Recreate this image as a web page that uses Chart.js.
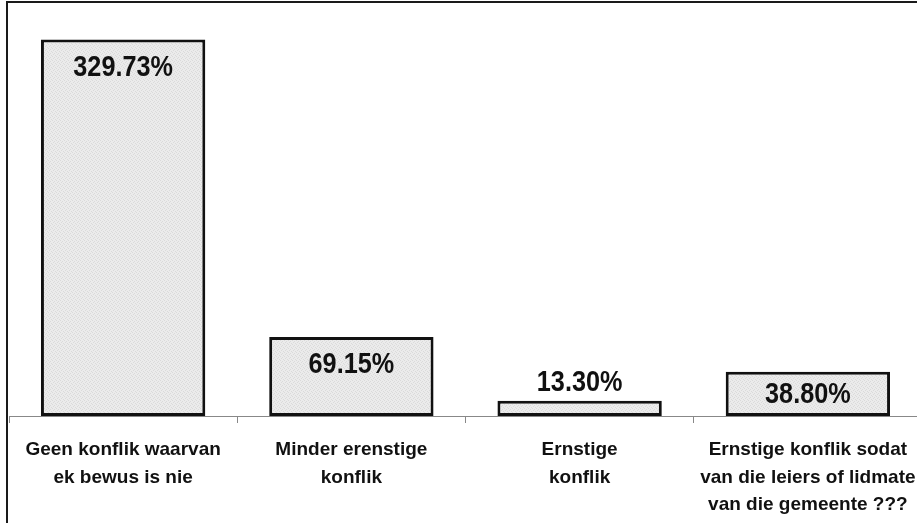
<!DOCTYPE html>
<html>
<head>
<meta charset="utf-8">
<script src="https://cdn.jsdelivr.net/npm/chart.js@4.4.1/dist/chart.umd.min.js"></script>
<style>
  html, body { margin: 0; padding: 0; background: #fff; overflow: hidden; }
  #wrap { position: relative; width: 917px; height: 523px; overflow: hidden; }
  #chart { position: absolute; left: 0; top: 0; }
  #frame {
    position: absolute; left: 6px; top: 1px; width: 2000px; height: 2000px;
    border-left: 2px solid #1a1a1a; border-top: 2px solid #1a1a1a;
    pointer-events: none;
  }
</style>
</head>
<body>
<div id="wrap">
  <canvas id="chart" width="922" height="523"></canvas>
  <div id="frame"></div>
</div>
<script>
// values
const categories = [
  ["Geen konflik waarvan", "ek bewus is nie"],
  ["Minder erenstige", "konflik"],
  ["Ernstige", "konflik"],
  ["Ernstige konflik sodat", "van die leiers of lidmate", "van die gemeente ???"]
];
const percentages = [329.73, 69.15, 13.30, 38.80];

const FONT = "'Liberation Sans', Arial, sans-serif";

// light grey dotted fill like the original hatch
function makePattern() {
  const c = document.createElement('canvas');
  c.width = 4; c.height = 4;
  const g = c.getContext('2d');
  g.fillStyle = '#ebebeb';
  g.fillRect(0, 0, 4, 4);
  g.fillStyle = '#dadada';
  g.fillRect(0, 0, 1, 1);
  g.fillRect(2, 1, 1, 1);
  g.fillRect(1, 2, 1, 1);
  g.fillRect(3, 3, 1, 1);
  return g.createPattern(c, 'repeat');
}

// bold percentages, a bit condensed like the original
const valueLabels = {
  id: 'valueLabels',
  afterDatasetsDraw(chart) {
    const ctx = chart.ctx;
    const meta = chart.getDatasetMeta(0);
    ctx.save();
    ctx.font = 'bold 29px ' + FONT;
    ctx.fillStyle = '#111';
    ctx.textAlign = 'center';
    ctx.textBaseline = 'alphabetic';
    meta.data.forEach((bar, i) => {
      const txt = percentages[i].toFixed(2) + '%';
      const h = bar.base - bar.y;
      let yb;
      if (h > 40) yb = Math.min(bar.y + 36, bar.base - 13);
      else yb = bar.y - 10;
      ctx.save();
      ctx.translate(bar.x, yb);
      ctx.scale(0.87, 1);
      ctx.fillText(txt, 0, 0);
      ctx.restore();
    });
    ctx.restore();
  }
};

new Chart(document.getElementById('chart'), {
  type: 'bar',
  data: {
    labels: categories,
    datasets: [{
      data: percentages,
      backgroundColor: makePattern(),
      borderColor: '#111',
      borderWidth: 3,
      borderSkipped: false,
      categoryPercentage: 0.72,
      barPercentage: 1.0
    }]
  },
  options: {
    responsive: false,
    animation: false,
    layout: { padding: { left: 9, top: 5, right: 0, bottom: 0 } },
    plugins: { legend: { display: false }, tooltip: { enabled: false } },
    scales: {
      x: {
        afterFit: (s) => { s.height = 107; s.paddingLeft = 0; s.paddingRight = 0; },
        border: { display: true, color: '#888', width: 1 },
        grid: { offset: true, drawOnChartArea: false, tickLength: 7, color: '#888' },
        ticks: {
          color: '#111',
          padding: 13,
          maxRotation: 0,
          autoSkip: false,
          font: { family: FONT, size: 19, weight: 'bold', lineHeight: 1.45 }
        }
      },
      y: {
        display: false,
        min: 0,
        max: 360
      }
    }
  },
  plugins: [valueLabels]
});
</script>
</body>
</html>
